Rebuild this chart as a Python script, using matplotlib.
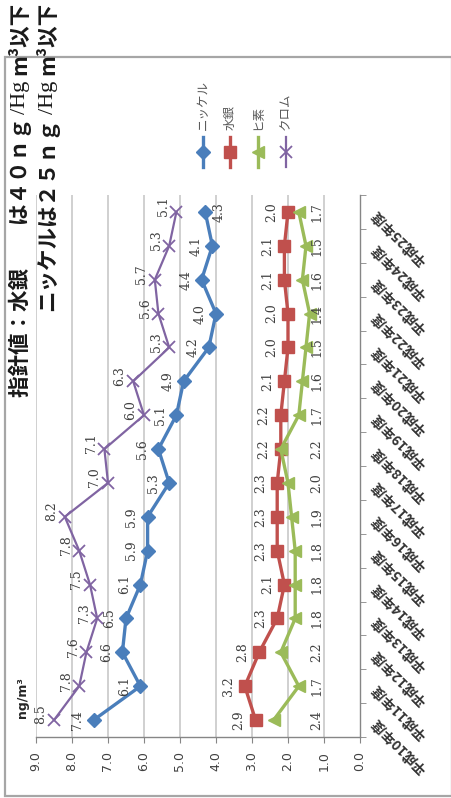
import matplotlib
matplotlib.use("Agg")
import matplotlib.pyplot as plt
from matplotlib.patches import Rectangle
from matplotlib.lines import Line2D

# ---------------- data ----------------
years = ["平成10年度", "平成11年度", "平成12年度", "平成13年度", "平成14年度", "平成15年度",
         "平成16年度", "平成17年度", "平成18年度", "平成19年度", "平成20年度", "平成21年度",
         "平成22年度", "平成23年度", "平成24年度", "平成25年度"]
nickel = [7.4, 6.1, 6.6, 6.5, 6.1, 5.9, 5.9, 5.3, 5.6, 5.1, 4.9, 4.2, 4.0, 4.4, 4.1, 4.3]
mercury = [2.9, 3.2, 2.8, 2.3, 2.1, 2.3, 2.3, 2.3, 2.2, 2.2, 2.1, 2.0, 2.0, 2.1, 2.1, 2.0]
arsenic = [2.4, 1.7, 2.2, 1.8, 1.8, 1.8, 1.9, 2.0, 2.2, 1.7, 1.6, 1.5, 1.4, 1.6, 1.5, 1.7]
chromium = [8.5, 7.8, 7.6, 7.3, 7.5, 7.8, 8.2, 7.0, 7.1, 6.0, 6.3, 5.3, 5.6, 5.7, 5.3, 5.1]
series_names = ["ニッケル", "水銀", "ヒ素", "クロム"]
value_ticks = [0.0, 1.0, 2.0, 3.0, 4.0, 5.0, 6.0, 7.0, 8.0, 9.0]
unit_label = "ng/m³"
title_line1 = ["指針値：水銀　　は４０ｎｇ", "/Hg", "m³以下"]
title_line2 = ["ニッケルは２５ｎｇ", "/Hg", "m³以下"]

CJK = ["Noto Sans CJK JP", "DejaVu Sans"]
W, H = 451, 798

fig = plt.figure(figsize=(W / 100, H / 100), dpi=100)
fig.patch.set_facecolor("white")

def fx(x):
    return x / W

def fy(y):
    return 1 - y / H

# outer frame
fig.patches.append(Rectangle((fx(5), fy(796)), fx(452) - fx(5), fy(57) - fy(796),
                             transform=fig.transFigure, fill=False,
                             edgecolor="#a6a6a6", linewidth=1.6))

# axes (rotated chart: values horizontal, inverted; categories vertical)
left, right, top, bottom = 36, 360, 195, 737
ax = fig.add_axes([fx(left), fy(bottom), (right - left) / W, (bottom - top) / H])
ax.set_xlim(9, 0)
ax.set_ylim(-0.5, len(years) - 0.5)
ax.set_facecolor("none")

for s in ["top", "left"]:
    ax.spines[s].set_visible(False)
for s in ["bottom", "right"]:
    ax.spines[s].set_color("#868686")
    ax.spines[s].set_linewidth(1.0)

ax.set_xticks(value_ticks)
ax.set_xticklabels([f"{v:.1f}" for v in value_ticks], rotation=90,
                   fontsize=9, color="#404040", family="DejaVu Sans")
ax.tick_params(axis="x", length=4, color="#868686", pad=6)
for v in value_ticks[1:]:
    ax.axvline(v, color="#c4c4c4", linewidth=1.1, zorder=0)

ypos = list(range(len(years)))
ax.yaxis.tick_right()
ax.set_yticks(ypos)
ax.set_yticklabels(years, rotation=135, rotation_mode="anchor", ha="right",
                   va="center", fontsize=10, fontweight="bold", family=CJK,
                   color="#333333")
ax.tick_params(axis="y", which="major", length=0, pad=10)
ax.set_yticks([i - 0.5 for i in range(len(years) + 1)], minor=True)
ax.tick_params(axis="y", which="minor", length=4, color="#868686")

styles = [
    (nickel, "#4a7ebb", "D", 7.5, dict()),
    (mercury, "#c0504d", "s", 8.5, dict()),
    (arsenic, "#9bbb59", "<", 9, dict()),
    (chromium, "#8064a2", "x", 9, dict(markeredgewidth=1.3)),
]
for vals, c, m, ms, extra in styles:
    lw = 1.6 if m == "x" else 2.4
    ax.plot(vals, ypos, color=c, linewidth=lw, marker=m, markersize=ms,
            markerfacecolor=c, markeredgecolor=c, zorder=3, clip_on=False, **extra)

lab_kw = dict(rotation=90, ha="center", va="center", fontsize=9,
              color="#404040", family="DejaVu Serif", textcoords="offset points")
for i, v in enumerate(nickel):
    dx = -11.5 if i < len(nickel) - 1 else 10
    ax.annotate(f"{v:.1f}", (v, i), xytext=(dx, 0), **lab_kw)
for i, v in enumerate(chromium):
    ax.annotate(f"{v:.1f}", (v, i), xytext=(-9.5, 4), **lab_kw)
for i, v in enumerate(mercury):
    ax.annotate(f"{v:.1f}", (v, i), xytext=(-12, 0), **lab_kw)
for i, v in enumerate(arsenic):
    ax.annotate(f"{v:.1f}", (1.2, i), xytext=(0, 0), **lab_kw)

# unit label
fig.text(fx(22), fy(698), unit_label, rotation=90, ha="center", va="center",
         fontsize=9, fontweight="bold", color="#262626", family="DejaVu Sans")

# legend (rotated)
leg_x = [203, 230, 258, 286]
for (vals, c, m, ms, extra), name, x in zip(styles, series_names, leg_x):
    lw = 1.6 if m == "x" else 2.4
    fig.add_artist(Line2D([fx(x), fx(x)], [fy(137), fy(167)], transform=fig.transFigure,
                          color=c, linewidth=lw))
    fig.add_artist(Line2D([fx(x)], [fy(152)], transform=fig.transFigure, color=c,
                          marker=m, markersize=ms, markerfacecolor=c, markeredgecolor=c,
                          **extra))
    fig.text(fx(x), fy(130), name, rotation=90, rotation_mode="anchor", ha="left",
             va="center", fontsize=9, color="#595959", family=CJK)

# title (rotated, end-anchored at the top)
renderer = fig.canvas.get_renderer()

def place_line(parts, x, y_end):
    y = y_end
    for txt, style in zip(reversed(parts), ["c", "b", "a"]):
        if style == "b":
            y += 3
            t = fig.text(fx(x + 1), fy(y), txt, rotation=90, rotation_mode="anchor",
                         ha="right", va="center", fontsize=16, color="#1a1a1a",
                         family="Liberation Serif")
        else:
            t = fig.text(fx(x), fy(y), txt, rotation=90, rotation_mode="anchor",
                         ha="right", va="center", fontsize=15.5, fontweight="bold",
                         color="#1a1a1a", family=CJK)
        bb = t.get_window_extent(renderer)
        y += bb.height + 3

place_line(title_line1, 20, 2)
place_line(title_line2, 48, 2)

fig.savefig("out.png", dpi=100)
